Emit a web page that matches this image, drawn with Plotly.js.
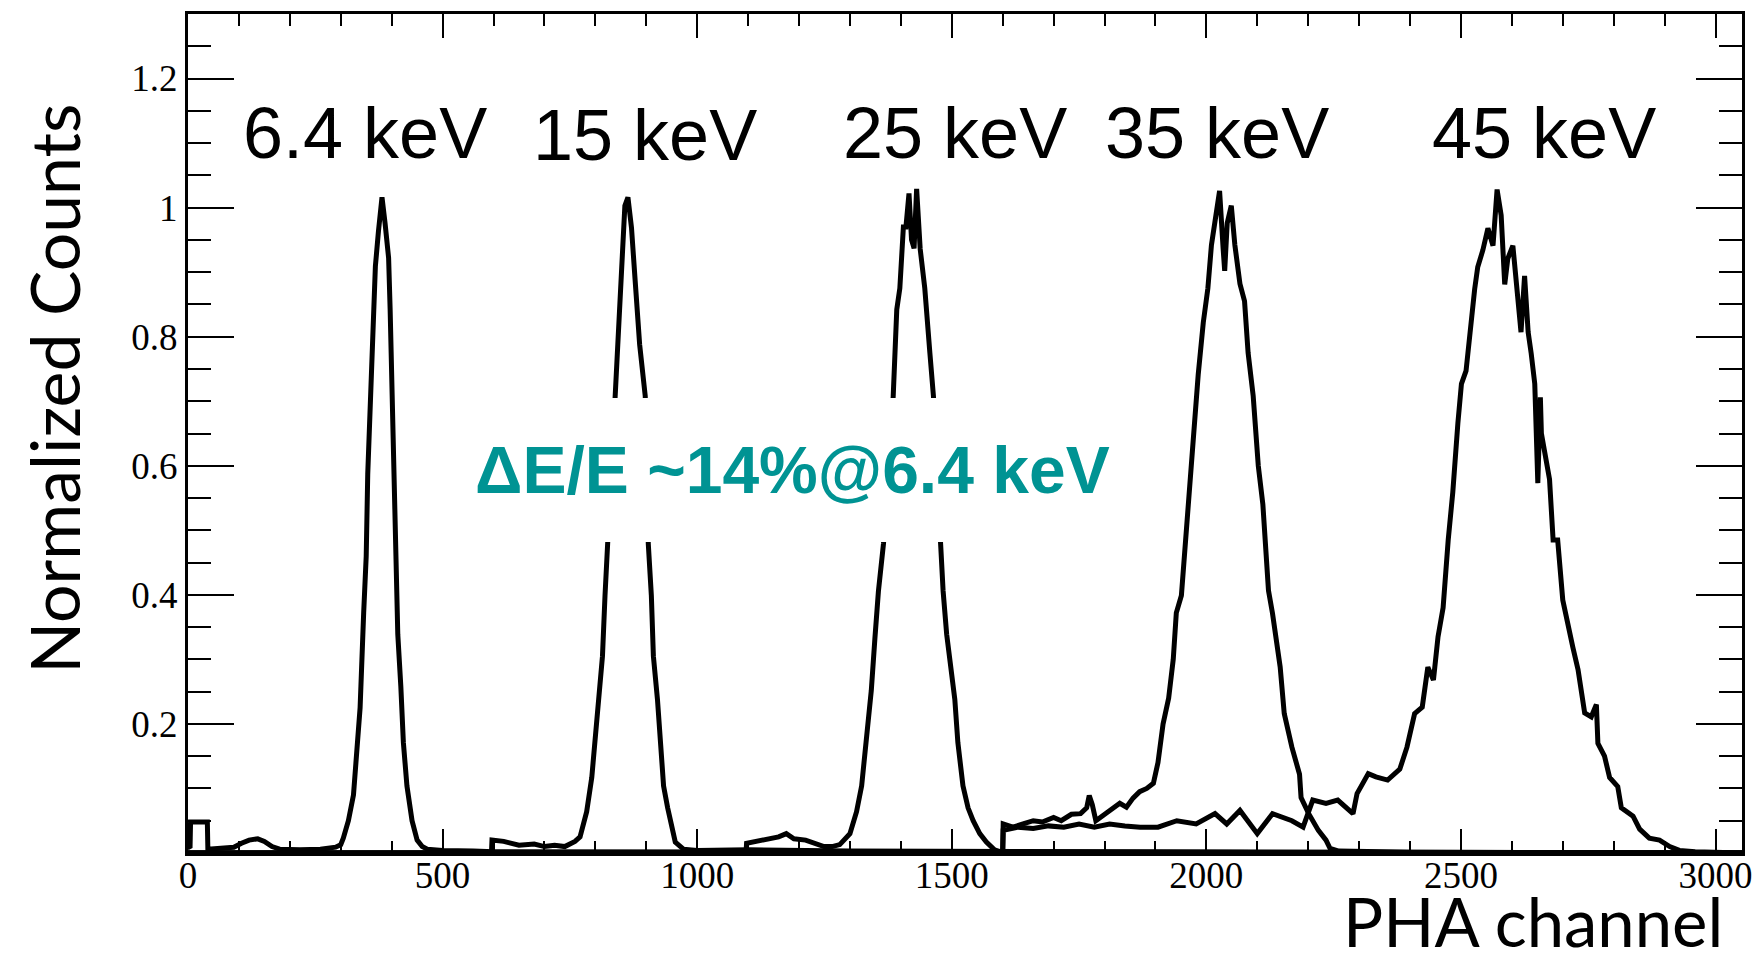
<!DOCTYPE html>
<html>
<head>
<meta charset="utf-8">
<script src="https://cdn.plot.ly/plotly-3.0.1.min.js"></script>
<style>
  html, body { margin: 0; padding: 0; background: #ffffff; }
  #chart { width: 1758px; height: 955px; }
</style>
</head>
<body>
<div id="chart"></div>
<script>
// ---------------- data ----------------
// PHA channel / normalized counts for each line energy
const ch_6p4 = [0, 4, 5, 38, 39, 60, 90, 105, 120, 137, 150, 165, 180, 220, 260, 290, 300, 305, 315, 325, 331, 338, 345, 350, 353, 358, 363, 368, 374, 381, 387, 394, 397, 400, 404, 405, 410, 412, 418, 423, 430, 440, 450, 460, 470, 500, 560, 600, 3052];
const cnt_6p4 = [0.01, 0.008, 0.048, 0.048, 0.006, 0.007, 0.009, 0.015, 0.02, 0.022, 0.018, 0.01, 0.006, 0.005, 0.006, 0.009, 0.013, 0.023, 0.05, 0.09, 0.144, 0.225, 0.372, 0.46, 0.587, 0.708, 0.842, 0.909, 0.963, 1.016, 0.976, 0.922, 0.842, 0.755, 0.64, 0.547, 0.453, 0.339, 0.258, 0.171, 0.104, 0.05, 0.02, 0.01, 0.006, 0.004, 0.003, 0.002, 0];

const ch_15 = [0, 596, 597, 620, 650, 680, 700, 720, 740, 760, 770, 783, 793, 800, 806, 814, 819, 824, 832, 839, 845, 852, 858, 864, 871, 878, 887, 898, 904, 910, 914, 922, 927, 934, 942, 948, 957, 973, 1000, 1100, 1200, 1300, 3052];
const cnt_15 = [0, 0, 0.02, 0.018, 0.012, 0.014, 0.01, 0.012, 0.01, 0.018, 0.025, 0.064, 0.117, 0.178, 0.238, 0.305, 0.399, 0.479, 0.6, 0.708, 0.808, 0.889, 1.003, 1.016, 0.969, 0.889, 0.788, 0.708, 0.479, 0.399, 0.305, 0.238, 0.171, 0.104, 0.07, 0.05, 0.017, 0.006, 0.004, 0.005, 0.004, 0.003, 0];

const ch_25 = [0, 1096, 1097, 1120, 1140, 1160, 1175, 1190, 1213, 1230, 1249, 1265, 1280, 1300, 1313, 1323, 1332, 1342, 1349, 1356, 1366, 1375, 1385, 1392, 1398, 1405, 1410, 1416, 1421, 1426, 1431, 1438, 1447, 1457, 1464, 1470, 1477, 1483, 1490, 1496, 1506, 1512, 1522, 1532, 1542, 1555, 1568, 1584, 1594, 1700, 3052];
const cnt_25 = [0, 0, 0.015, 0.018, 0.022, 0.025, 0.03, 0.022, 0.02, 0.015, 0.01, 0.01, 0.013, 0.03, 0.064, 0.104, 0.171, 0.252, 0.332, 0.406, 0.48, 0.6, 0.708, 0.842, 0.875, 0.97, 0.97, 1.022, 0.95, 0.937, 1.029, 0.936, 0.875, 0.775, 0.708, 0.6, 0.48, 0.406, 0.339, 0.305, 0.238, 0.171, 0.104, 0.07, 0.05, 0.03, 0.017, 0.005, 0.002, 0.001, 0];

const ch_35 = [0, 1600, 1601, 1620, 1640, 1660, 1678, 1700, 1715, 1735, 1753, 1765, 1770, 1776, 1783, 1800, 1813, 1830, 1843, 1856, 1869, 1883, 1896, 1905, 1915, 1926, 1935, 1941, 1951, 1958, 1967, 1974, 1984, 1994, 2003, 2010, 2020, 2026, 2033, 2036, 2041, 2049, 2056, 2066, 2075, 2082, 2092, 2102, 2111, 2122, 2130, 2145, 2153, 2168, 2183, 2186, 2201, 2220, 2235, 2243, 2260, 2400, 3052];
const cnt_35 = [0, 0, 0.045, 0.04, 0.045, 0.05, 0.048, 0.055, 0.05, 0.06, 0.061, 0.07, 0.089, 0.075, 0.05, 0.06, 0.066, 0.077, 0.071, 0.085, 0.095, 0.1, 0.108, 0.14, 0.2, 0.24, 0.3, 0.372, 0.399, 0.473, 0.573, 0.641, 0.741, 0.822, 0.875, 0.942, 0.99, 1.026, 0.936, 0.902, 0.976, 1.003, 0.942, 0.882, 0.855, 0.775, 0.708, 0.6, 0.54, 0.407, 0.371, 0.288, 0.216, 0.164, 0.122, 0.086, 0.061, 0.035, 0.02, 0.007, 0.003, 0.001, 0];

const ch_45 = [0, 1600, 1601, 1630, 1660, 1690, 1720, 1750, 1780, 1810, 1840, 1870, 1905, 1942, 1980, 2017, 2040, 2066, 2100, 2130, 2168, 2190, 2209, 2235, 2258, 2288, 2296, 2318, 2333, 2356, 2380, 2394, 2409, 2424, 2435, 2446, 2455, 2465, 2475, 2484, 2494, 2501, 2510, 2517, 2527, 2533, 2543, 2553, 2563, 2571, 2579, 2586, 2592, 2602, 2609, 2618, 2625, 2632, 2638, 2645, 2651, 2656, 2658, 2664, 2674, 2681, 2690, 2700, 2710, 2720, 2730, 2743, 2756, 2766, 2769, 2782, 2792, 2808, 2815, 2838, 2851, 2870, 2890, 2910, 2929, 2960, 3052];
const cnt_45 = [0, 0, 0.035, 0.04, 0.038, 0.042, 0.04, 0.045, 0.04, 0.045, 0.042, 0.04, 0.04, 0.05, 0.045, 0.061, 0.045, 0.066, 0.03, 0.061, 0.05, 0.04, 0.082, 0.077, 0.082, 0.061, 0.092, 0.123, 0.118, 0.113, 0.13, 0.164, 0.216, 0.226, 0.288, 0.268, 0.335, 0.38, 0.485, 0.559, 0.666, 0.727, 0.747, 0.807, 0.874, 0.908, 0.934, 0.968, 0.941, 1.028, 0.988, 0.881, 0.921, 0.941, 0.874, 0.807, 0.894, 0.807, 0.774, 0.727, 0.573, 0.706, 0.65, 0.626, 0.579, 0.485, 0.485, 0.392, 0.351, 0.318, 0.284, 0.217, 0.211, 0.23, 0.17, 0.15, 0.117, 0.103, 0.07, 0.057, 0.037, 0.023, 0.02, 0.01, 0.004, 0.002, 0];

// peak labels
const peakLabels = ["6.4 keV", "15 keV", "25 keV", "35 keV", "45 keV"];
const peakLabelX = [348, 898, 1506, 2020, 2663];
const peakLabelY = [1.115, 1.112, 1.115, 1.116, 1.116];

// axis ticks
const xTickVals = [0, 500, 1000, 1500, 2000, 2500, 3000];
const xTickText = ["0", "500", "1000", "1500", "2000", "2500", "3000"];
const yTickVals = [0.2, 0.4, 0.6, 0.8, 1.0, 1.2];
const yTickText = ["0.2", "0.4", "0.6", "0.8", "1", "1.2"];

const resolutionText = "<b>ΔE/E ~14%@6.4 keV</b>";
const xTitle = "PHA channel";
const yTitle = "Normalized Counts";

// ---------------- traces ----------------
const series = [[ch_6p4, cnt_6p4, "6.4 keV"], [ch_15, cnt_15, "15 keV"], [ch_25, cnt_25, "25 keV"], [ch_35, cnt_35, "35 keV"], [ch_45, cnt_45, "45 keV"]];
const traces = series.map(s => ({
  type: "scatter",
  mode: "lines",
  x: s[0],
  y: s[1],
  name: s[2],
  line: { color: "#000000", width: 5, shape: "linear" },
  hoverinfo: "x+y+name"
}));

// ---------------- annotations ----------------
const annotations = [];
peakLabels.forEach((t, i) => {
  annotations.push({
    text: t, x: peakLabelX[i], y: peakLabelY[i], xref: "x", yref: "y",
    xanchor: "center", yanchor: "middle", showarrow: false,
    font: { family: "Liberation Sans, Arial, sans-serif", size: 72, color: "#000000" }
  });
});
annotations.push({
  text: resolutionText, x: 1187, y: 0.593, xref: "x", yref: "y",
  xanchor: "center", yanchor: "middle", showarrow: false,
  bgcolor: "#ffffff", borderpad: 35, borderwidth: 0,
  font: { family: "Liberation Sans, Arial, sans-serif", size: 66, color: "#009393" }
});
annotations.push({
  text: xTitle, x: 0.9888, y: -0.0805, xref: "paper", yref: "paper",
  xanchor: "right", yanchor: "middle", showarrow: false,
  font: { family: "Lato, sans-serif", size: 67, color: "#000000" }
});
annotations.push({
  text: yTitle, x: -0.087, y: 0.553, xref: "paper", yref: "paper",
  xanchor: "center", yanchor: "middle", showarrow: false, textangle: -90,
  font: { family: "Lato, sans-serif", size: 68, color: "#000000" }
});

const tickFont = { family: "Liberation Serif, Times New Roman, serif", size: 37, color: "#000000" };

const layout = {
  width: 1758,
  height: 955,
  margin: { l: 188, r: 16, t: 14, b: 102, pad: 0 },
  paper_bgcolor: "#ffffff",
  plot_bgcolor: "#ffffff",
  showlegend: false,
  xaxis: {
    range: [0, 3052],
    tickmode: "array", tickvals: xTickVals, ticktext: xTickText,
    ticks: "inside", ticklen: 24, tickwidth: 2, tickcolor: "#000000",
    ticklabelstandoff: -12,
    minor: { tickmode: "linear", tick0: 0, dtick: 100, ticks: "inside", ticklen: 12, tickwidth: 2, tickcolor: "#000000", showgrid: false },
    showline: true, linewidth: 3, linecolor: "#000000", mirror: "allticks",
    showgrid: false, zeroline: false,
    tickfont: tickFont
  },
  yaxis: {
    range: [0, 1.3],
    tickmode: "array", tickvals: yTickVals, ticktext: yTickText,
    ticks: "inside", ticklen: 46, tickwidth: 2, tickcolor: "#000000",
    minor: { tickmode: "linear", tick0: 0, dtick: 0.05, ticks: "inside", ticklen: 23, tickwidth: 2, tickcolor: "#000000", showgrid: false },
    showline: true, linewidth: 3, linecolor: "#000000", mirror: "allticks",
    showgrid: false, zeroline: false,
    tickfont: tickFont
  },
  annotations: annotations
};

Plotly.newPlot("chart", traces, layout, { staticPlot: true, displayModeBar: false });
</script>
</body>
</html>
